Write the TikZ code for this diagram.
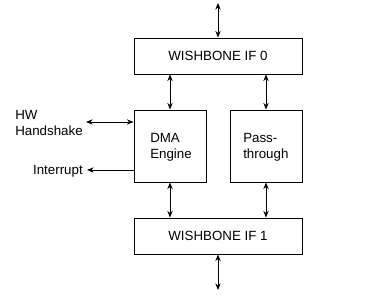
\documentclass[tikz,border=0pt]{standalone}
\usepackage{fontspec}
\setmainfont{Liberation Sans}
\usetikzlibrary{arrows.meta}
\begin{document}
\begin{tikzpicture}[x=0.75pt,y=-0.75pt,
  blk/.style={draw,line width=0.7pt,inner sep=0pt,font=\fontsize{10}{12}\selectfont},
  conn/.style={line width=0.7pt,{Stealth[length=5pt,width=4pt]}-{Stealth[length=5pt,width=4pt]}},
  oneway/.style={line width=0.7pt,-{Stealth[length=5pt,width=4pt]}},
  lbl/.style={font=\fontsize{10}{12}\selectfont,inner sep=0pt}]
\useasboundingbox (0,0) rectangle (376,296);
\node[blk,minimum width=168*0.75pt,minimum height=36*0.75pt] (wb0) at (218,56) {WISHBONE IF 0};
\node[blk,minimum width=168*0.75pt,minimum height=36*0.75pt] (wb1) at (218,236) {WISHBONE IF 1};
\node[blk,minimum width=72*0.75pt,minimum height=72*0.75pt] (dma) at (170,146) {};
\node[blk,minimum width=72*0.75pt,minimum height=72*0.75pt] (pass) at (266,146) {};
\node[lbl,align=left,anchor=west] (dmat) at (150,147) {DMA\\Engine};
\node[lbl,align=left,anchor=west] (passt) at (243,147) {Pass-\\through};
\coordinate (top) at (218,3);
\coordinate (bot) at (218,290);
\draw[conn] (top) -- (wb0.north);
\draw[conn] (wb1.south) -- (bot);
\draw[conn] (wb0.south -| dma.north) -- (dma.north);
\draw[conn] (wb0.south -| pass.north) -- (pass.north);
\draw[conn] (dma.south) -- (wb1.north -| dma.south);
\draw[conn] (pass.south) -- (wb1.north -| pass.south);
\node[lbl,align=left,anchor=west] (hw) at (15,123) {HW\\Handshake};
\node[lbl,anchor=east] (intr) at (83,171) {Interrupt};
\coordinate (hwend) at (86,122);
\coordinate (intend) at (87,170);
\draw[conn] (hwend) -- (dma.west |- hwend);
\draw[oneway] (dma.west |- intend) -- (intend);
\end{tikzpicture}
\end{document}
